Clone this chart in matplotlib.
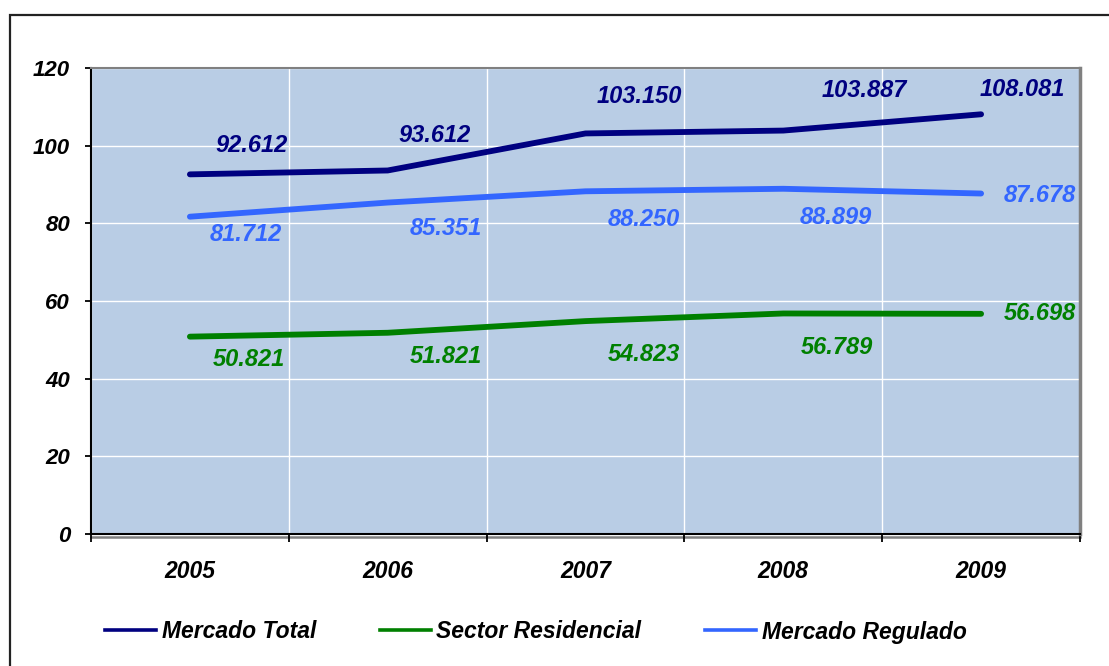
import matplotlib
matplotlib.use("Agg")
from matplotlib import pyplot as plt
from matplotlib.patches import Rectangle
from matplotlib.lines import Line2D

plt.rcParams["font.family"] = ["Liberation Sans", "DejaVu Sans"]

years = ["2005", "2006", "2007", "2008", "2009"]
mercado_total = [92.612, 93.612, 103.150, 103.887, 108.081]
sector_residencial = [50.821, 51.821, 54.823, 56.789, 56.698]
mercado_regulado = [81.712, 85.351, 88.250, 88.899, 87.678]
y_ticks = [0, 20, 40, 60, 80, 100, 120]

# label offsets in pixels (x, y)
off_total = [(62, 29), (47, 35), (54, 37), (81, 40), (41, 25)]
off_res = [(59, -23), (58, -24), (58, -33), (54, -34), (59, 0)]
off_reg = [(56, -18), (58, -26), (58, -28), (53, -29), (59, -2)]

c_total = "#000080"
c_res = "#008000"
c_reg = "#3366FF"

fig = plt.figure(figsize=(11.09, 6.66), dpi=100)
W, H = 1109, 666
ax = fig.add_axes([91 / W, (H - 534) / H, (1080 - 91) / W, (534 - 68) / H])
ax.set_facecolor("#B9CDE5")

x = list(range(len(years)))
ax.plot(x, mercado_total, color=c_total, lw=4.2, solid_capstyle="round", zorder=3)
ax.plot(x, sector_residencial, color=c_res, lw=4.2, solid_capstyle="round", zorder=3)
ax.plot(x, mercado_regulado, color=c_reg, lw=4.2, solid_capstyle="round", zorder=3)

txt = dict(fontsize=17, fontweight="bold", fontstyle="italic", ha="center", va="center",
           textcoords="offset pixels")
for i in x:
    ax.annotate("{:.3f}".format(mercado_total[i]), (i, mercado_total[i]),
                xytext=off_total[i], color=c_total, **txt)
    ax.annotate("{:.3f}".format(sector_residencial[i]), (i, sector_residencial[i]),
                xytext=off_res[i], color=c_res, **txt)
    ax.annotate("{:.3f}".format(mercado_regulado[i]), (i, mercado_regulado[i]),
                xytext=off_reg[i], color=c_reg, **txt)

ax.set_xlim(-0.5, len(years) - 0.5)
ax.set_ylim(0, 120)

# x ticks at the category boundaries, labels in the middle
ax.set_xticks([i - 0.5 for i in range(len(years) + 1)])
ax.set_xticklabels([])
ax.set_xticks(x, minor=True)
ax.set_xticklabels(years, minor=True, fontsize=16.5, fontweight="bold", fontstyle="italic")
ax.tick_params(axis="x", which="major", direction="out", length=6, width=1.3, color="black")
ax.tick_params(axis="x", which="minor", length=0, pad=19)

ax.set_yticks(y_ticks)
ax.set_yticklabels([str(v) for v in y_ticks], fontsize=16, fontweight="bold", fontstyle="italic")
ax.tick_params(axis="y", direction="out", length=4, width=1.3, color="black", pad=11)

ax.grid(True, which="major", color="white", lw=1.0, zorder=1)
ax.set_axisbelow(True)

ax.spines["left"].set_color("black")
ax.spines["left"].set_linewidth(1.5)
ax.spines["bottom"].set_color("black")
ax.spines["bottom"].set_linewidth(1.5)
ax.spines["top"].set_color("#808080")
ax.spines["top"].set_linewidth(1.5)
ax.spines["right"].set_color("#808080")
ax.spines["right"].set_linewidth(2.5)

# grey shadow under the x axis
shadow = Line2D([0, 1], [-0.006, -0.006], transform=ax.transAxes, color="#808080",
                lw=1.8, clip_on=False, zorder=0)
ax.add_line(shadow)

# outer frame of the chart (runs off the image on right and bottom)
frame = Rectangle((9.5 / W, -0.05), 1.5, (H - 15) / H + 0.05, transform=fig.transFigure,
                  fill=False, edgecolor="#222222", lw=1.6, clip_on=False)
fig.patches.append(frame)

handles = [Line2D([], [], color=c_total, lw=2.6),
           Line2D([], [], color=c_res, lw=2.6),
           Line2D([], [], color=c_reg, lw=2.6)]
labels = ["Mercado Total", "Sector Residencial", "Mercado Regulado"]
fig.legend(handles, labels, loc="center", bbox_to_anchor=(536 / W, (H - 632) / H),
           ncol=3, frameon=False, handlelength=2.2, handletextpad=0.25, columnspacing=2.8,
           prop=dict(family="Liberation Sans", size=16.5, weight="bold", style="italic"))

fig.savefig("out.png", dpi=100)
